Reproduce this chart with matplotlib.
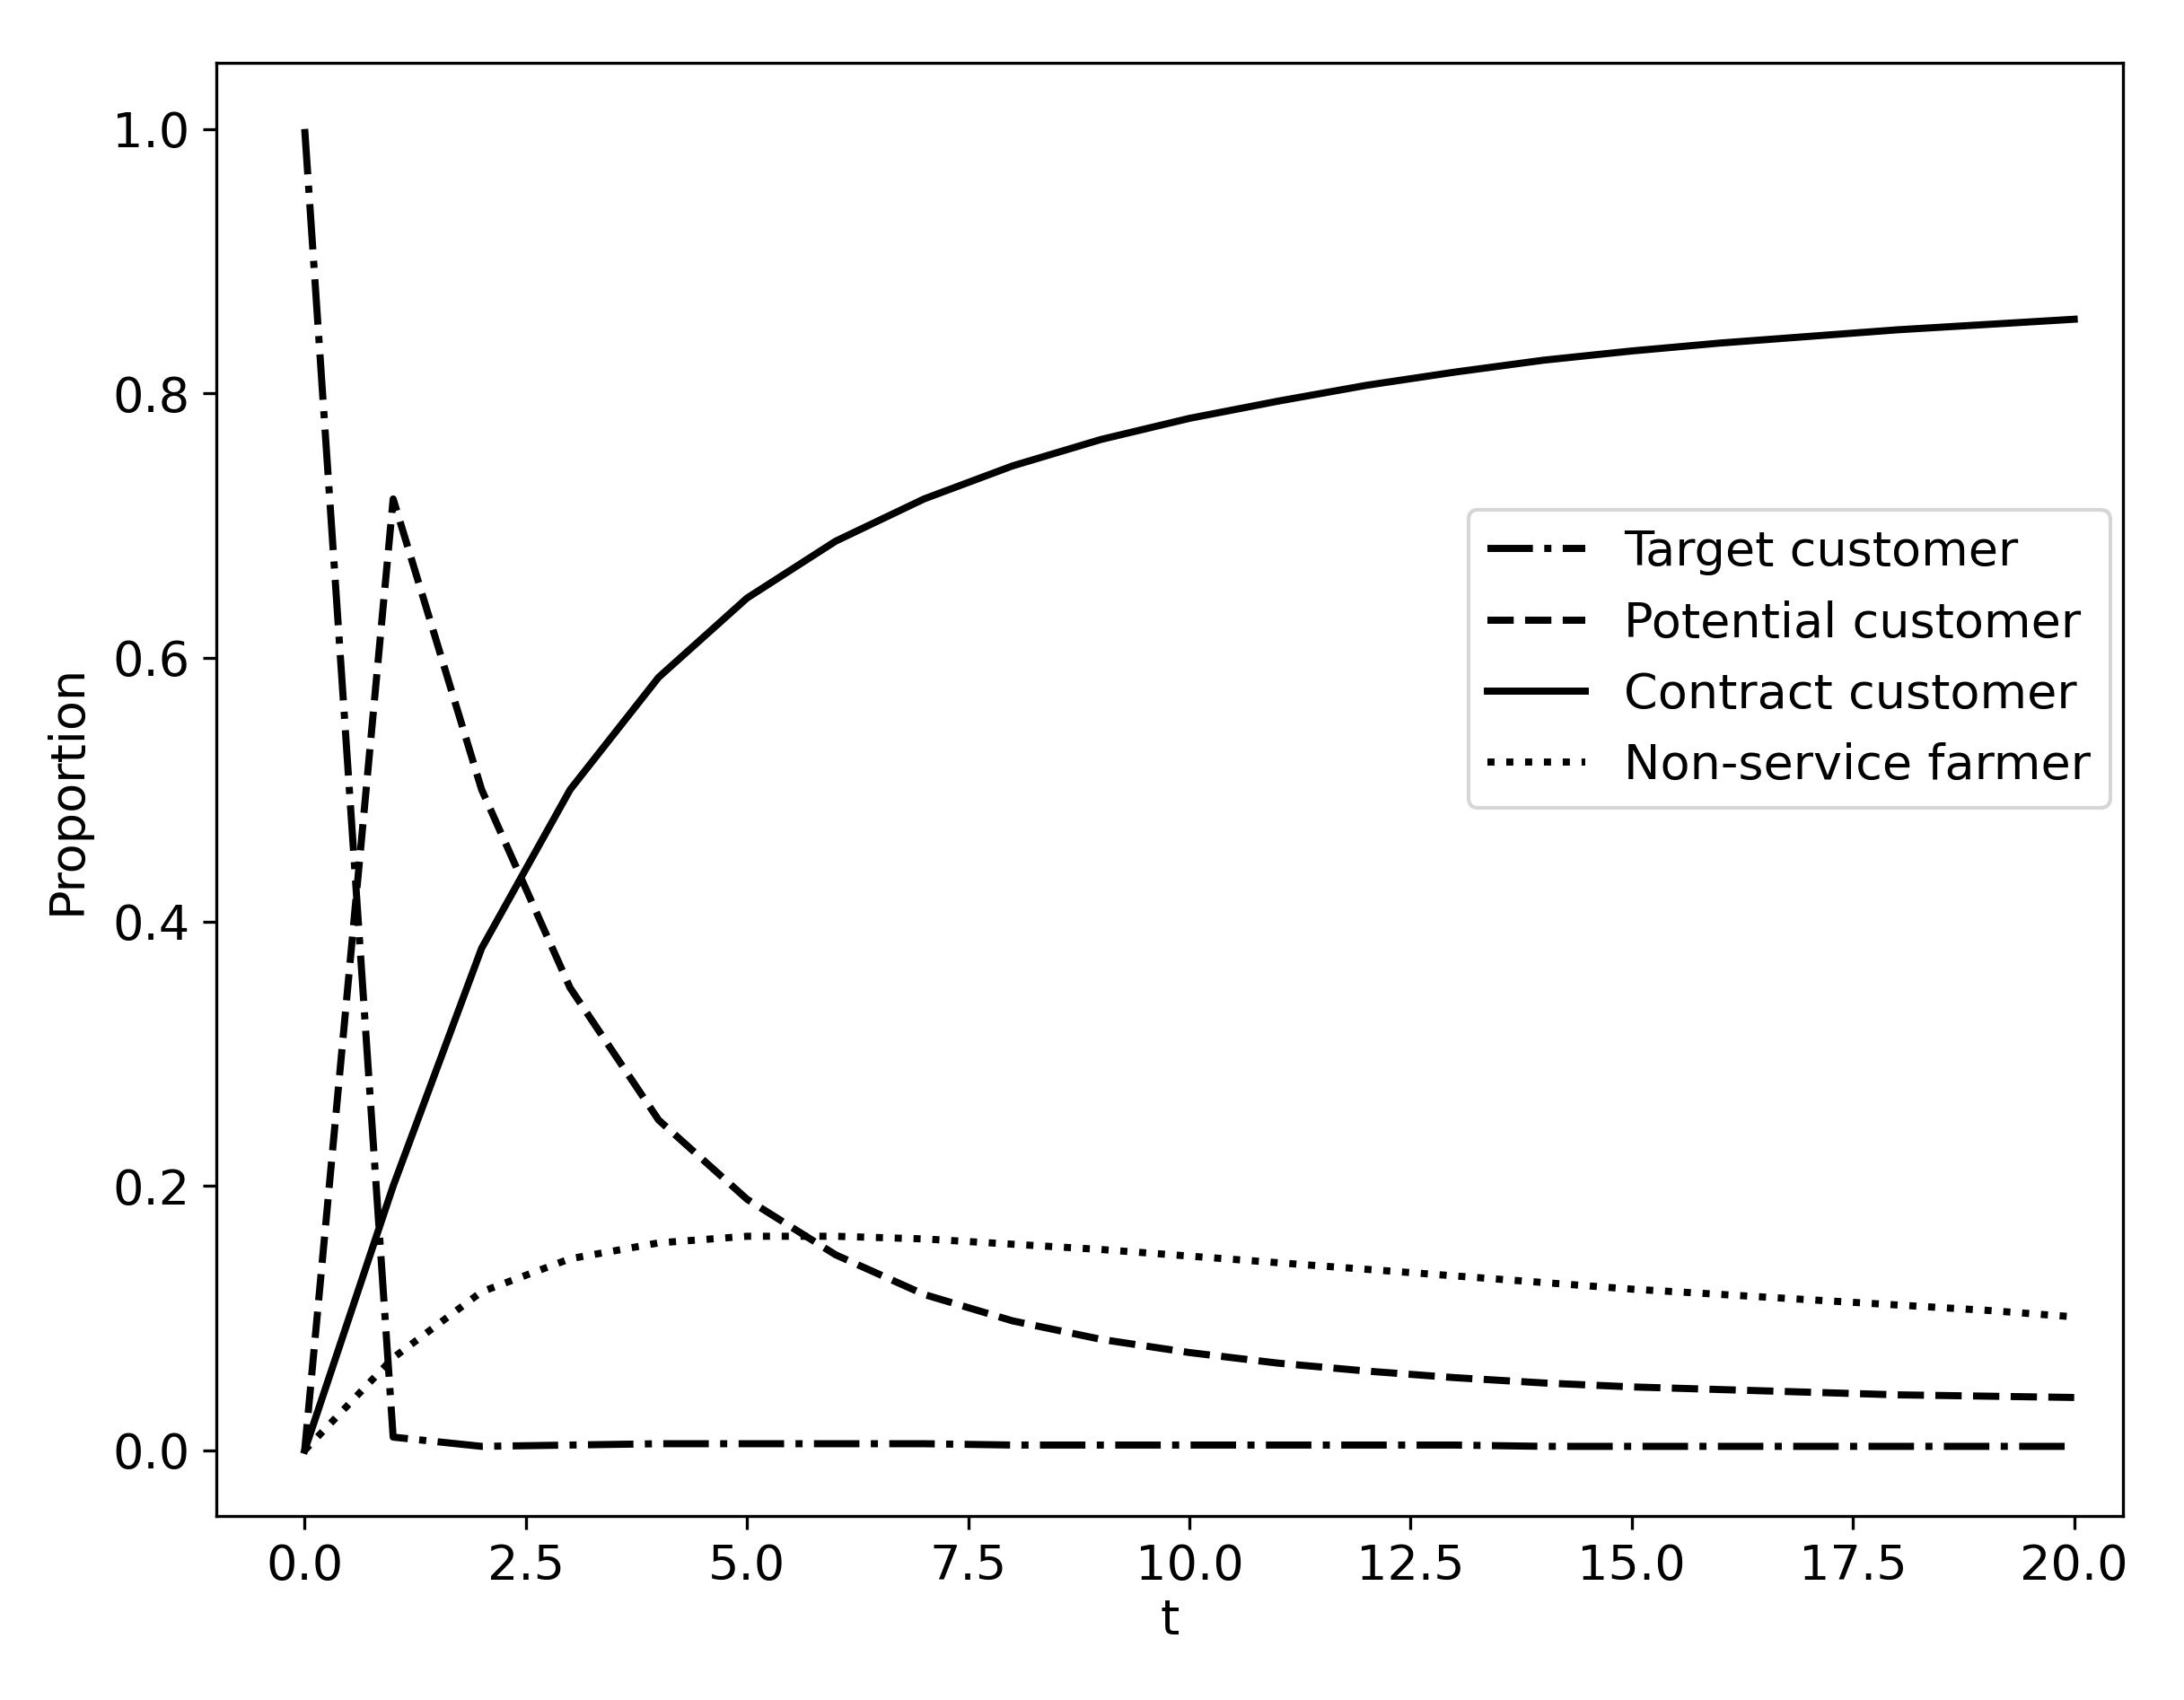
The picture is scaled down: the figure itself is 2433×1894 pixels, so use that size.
import matplotlib
matplotlib.use("Agg")
import matplotlib.pyplot as plt

t = list(range(21))
target = [1.0, 0.01, 0.003, 0.004, 0.005, 0.005, 0.005, 0.005, 0.004, 0.004, 0.004,
          0.004, 0.004, 0.004, 0.003, 0.003, 0.003, 0.003, 0.003, 0.003, 0.003]
potential = [0, 0.72, 0.5, 0.35, 0.25, 0.19, 0.148, 0.118, 0.098, 0.084, 0.074,
             0.066, 0.060, 0.055, 0.051, 0.048, 0.046, 0.044, 0.042, 0.041, 0.040]
contract = [0, 0.2, 0.38, 0.5, 0.585, 0.645, 0.688, 0.72, 0.745, 0.765, 0.781,
            0.794, 0.806, 0.816, 0.825, 0.832, 0.838, 0.843, 0.848, 0.852, 0.856]
nonservice = [0, 0.07, 0.12, 0.145, 0.157, 0.162, 0.162, 0.16, 0.156, 0.152, 0.147,
              0.142, 0.137, 0.132, 0.127, 0.122, 0.118, 0.114, 0.110, 0.106, 0.101]

plt.rcParams['font.size'] = 13
fig = plt.figure(figsize=(2433/300, 1894/300), dpi=300)
ax = fig.add_axes([0.099, 0.108, 0.873, 0.855])
lw = 1.9
ax.plot(t, target, 'k-.', lw=lw, label='Target customer')
ax.plot(t, potential, 'k--', lw=lw, label='Potential customer')
ax.plot(t, contract, 'k-', lw=lw, label='Contract customer')
ax.plot(t, nonservice, 'k:', lw=lw, label='Non-service farmer')
ax.set_xlim(-1, 20.55)
ax.set_xlabel('t', labelpad=2)
ax.set_ylabel('Proportion', labelpad=6)
ax.legend(loc='center right', bbox_to_anchor=(1.006, 0.59))
fig.savefig('out.png', dpi=300)
